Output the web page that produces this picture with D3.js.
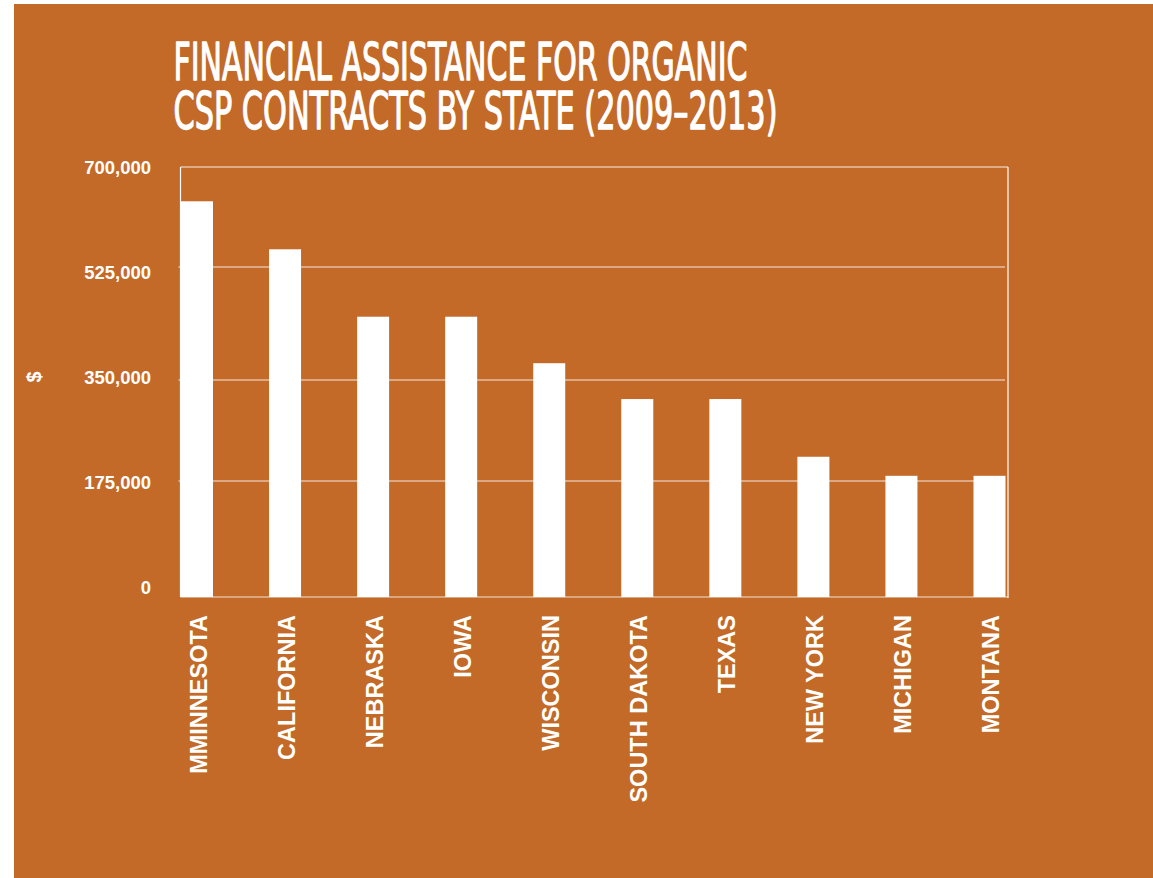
<!DOCTYPE html>
<html>
<head>
<meta charset="utf-8">
<script src="https://cdn.jsdelivr.net/npm/d3@7"></script>
<style>
  html, body { margin: 0; padding: 0; background: #ffffff; }
  svg { display: block; }
</style>
</head>
<body>
<svg id="chart" width="1153" height="878"></svg>
<script>
// Organic CSP contract financial assistance by state, 2009–2013 (US dollars)
const states = ["MMINNESOTA", "CALIFORNIA", "NEBRASKA", "IOWA", "WISCONSIN",
                "SOUTH DAKOTA", "TEXAS", "NEW YORK", "MICHIGAN", "MONTANA"];
const assistance = [640000, 556000, 448000, 448000, 376000,
                    317000, 317000, 217000, 184000, 184000];
const tickValues = [0, 175000, 350000, 525000, 700000];
const tickLabels = ["0", "175,000", "350,000", "525,000", "700,000"];
const titleLines = ["FINANCIAL ASSISTANCE FOR ORGANIC", "CSP CONTRACTS BY STATE (2009–2013)"];

const BG = "#c36a29";
const svg = d3.select("#chart");

// panel
svg.append("rect").attr("x", 14).attr("y", 4).attr("width", 1139).attr("height", 874).attr("fill", BG);

// title: one text block, two lines
const titleFont = "'Liberation Sans Narrow', 'DejaVu Sans Condensed', 'Liberation Sans', sans-serif";
const titleWidths = [574, 604];
const titleBase = [79.5, 128.5];
const title = svg.append("text")
  .attr("fill", "#ffffff")
  .attr("stroke", "#ffffff")
  .attr("stroke-width", 1.3)
  .attr("stroke-linejoin", "round")
  .attr("font-family", titleFont)
  .attr("font-size", 52);
titleLines.forEach((t, i) => {
  title.append("tspan")
    .attr("x", 173.5).attr("y", titleBase[i])
    .attr("textLength", titleWidths[i])
    .attr("lengthAdjust", "spacingAndGlyphs")
    .text(t);
});

// plot frame
const plotL = 180.5, plotR = 1008, plotT = 167, plotB = 597;

// value scale, following the gridline spacing of the value axis
const y = d3.scaleLinear()
  .domain(tickValues)
  .range([597, 481, 380, 267, 167]);

// label placement along the value axis (evenly spaced)
const yLabel = d3.scaleLinear().domain([0, 700000]).range([588, 167.5]);

const x = d3.scalePoint().domain(states).range([197, 989.5]);
const barW = 32;

const font = "'Liberation Sans', Arial, Helvetica, sans-serif";

// gridlines
svg.append("g").selectAll("line")
  .data(tickValues.filter(v => v > 0 && v < 700000))
  .join("line")
  .attr("x1", plotL - 2).attr("x2", plotR - 3)
  .attr("y1", d => y(d)).attr("y2", d => y(d))
  .attr("stroke", "#ffffff").attr("stroke-opacity", 0.85).attr("stroke-width", 1.2);

// bars
svg.append("g").selectAll("rect")
  .data(states)
  .join("rect")
  .attr("x", d => x(d) - barW / 2)
  .attr("width", barW)
  .attr("y", (d, i) => y(assistance[i]))
  .attr("height", (d, i) => y(0) - y(assistance[i]))
  .attr("fill", "#ffffff");

// frame lines
svg.append("line").attr("x1", plotL).attr("x2", plotR).attr("y1", plotT).attr("y2", plotT)
  .attr("stroke", "#ffffff").attr("stroke-opacity", 0.6).attr("stroke-width", 1.5);
svg.append("line").attr("x1", plotR).attr("x2", plotR).attr("y1", plotT).attr("y2", plotB + 1)
  .attr("stroke", "#ffffff").attr("stroke-width", 1.2);
svg.append("line").attr("x1", plotL).attr("x2", plotL).attr("y1", plotT).attr("y2", plotB)
  .attr("stroke", "#ffffff").attr("stroke-width", 1.2);
svg.append("line").attr("x1", plotL).attr("x2", plotR).attr("y1", plotB).attr("y2", plotB)
  .attr("stroke", "#ffffff").attr("stroke-opacity", 0.8).attr("stroke-width", 1.2);

// value axis labels
svg.append("g").selectAll("text")
  .data(tickValues)
  .join("text")
  .attr("x", 151)
  .attr("y", d => yLabel(d))
  .attr("dy", "0.35em")
  .attr("text-anchor", "end")
  .attr("fill", "#ffffff")
  .attr("font-family", font)
  .attr("font-weight", "bold")
  .attr("font-size", 18.5)
  .text((d, i) => tickLabels[i]);

// value axis unit
svg.append("text")
  .attr("transform", "translate(33.5,377) rotate(-90)")
  .attr("text-anchor", "middle")
  .attr("dy", "0.35em")
  .attr("fill", "#ffffff")
  .attr("font-family", font)
  .attr("font-weight", "bold")
  .attr("font-size", 20)
  .text("$");

// state labels
svg.append("g").selectAll("text")
  .data(states)
  .join("text")
  .attr("transform", d => `translate(${x(d) + 1.5},615) rotate(-90)`)
  .attr("text-anchor", "end")
  .attr("dy", "0.36em")
  .attr("fill", "#ffffff")
  .attr("font-family", font)
  .attr("font-weight", "bold")
  .attr("font-size", 23.5)
  .text(d => d);
</script>
</body>
</html>
